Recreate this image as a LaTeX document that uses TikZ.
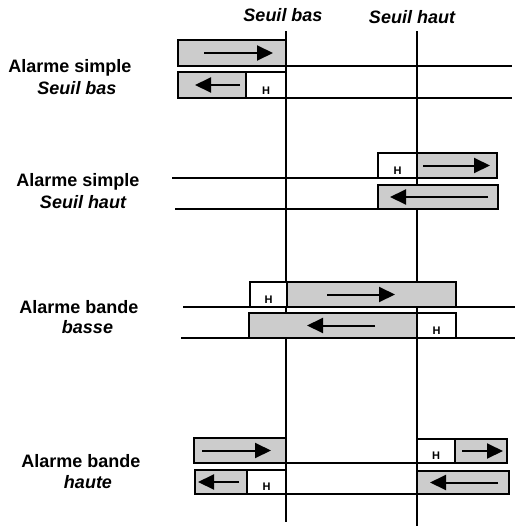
\documentclass[tikz,border=0pt]{standalone}
\usepackage{fontspec}
\setmainfont{Liberation Sans}
\usetikzlibrary{arrows.meta,calc}
\tikzset{
  gbox/.style={draw, line width=2.3pt, fill=black!20, inner sep=0pt, outer sep=0pt, anchor=north west},
  hbox/.style={draw, line width=2.3pt, fill=white, inner sep=0pt, outer sep=0pt, anchor=north west},
  hlab/.style={font=\fontsize{11}{13}\selectfont\bfseries, inner sep=0pt, anchor=base},
  arr/.style={line width=2pt, -{Triangle[length=16pt,width=15pt]}},
  rule/.style={line width=1.9pt},
  lab/.style={font=\fontsize{18}{21}\selectfont\bfseries, inner sep=0pt},
  ilab/.style={font=\fontsize{18}{21}\selectfont\bfseries\itshape, inner sep=0pt},
}
\begin{document}
\begin{tikzpicture}[x=1pt,y=-1pt]
\useasboundingbox (0,0) rectangle (515,530);
% thresholds
\coordinate (bT) at (286,31); \coordinate (bB) at (286,522);
\coordinate (hT) at (417,31); \coordinate (hB) at (417,526);
\draw[rule] (bT) -- (bB);
\draw[rule] (hT) -- (hB);
\node[ilab] (tb) at (283,15) {Seuil bas};
\node[ilab] (th) at (412,17) {Seuil haut};
% horizontal rules
\coordinate (l1a) at (286,66);  \coordinate (l1b) at (512,66);
\coordinate (l2a) at (286,98);  \coordinate (l2b) at (512,98);
\coordinate (l3a) at (172,178); \coordinate (l3b) at (378,178);
\coordinate (l4a) at (175,209); \coordinate (l4b) at (378,209);
\coordinate (l5a) at (183,307); \coordinate (l5b) at (515,307);
\coordinate (l6a) at (181,338); \coordinate (l6b) at (515,338);
\coordinate (l7a) at (286,463); \coordinate (l7b) at (417,463);
\coordinate (l8a) at (286,494); \coordinate (l8b) at (417,494);
\foreach \i in {1,...,8} {\draw[rule] (l\i a) -- (l\i b);}
% Row 1
\node[gbox, minimum width=108pt, minimum height=26pt] (r1a) at (178,40) {};
\draw[arr] ($(r1a.west)+(26,0)$) -- ($(r1a.east)+(-13,0)$);
\node[gbox, minimum width=68pt, minimum height=26pt] (r1b) at (178,72) {};
\node[hbox, minimum width=40pt, minimum height=26pt] (r1h) at (246,72) {};
\node[hlab] at ($(r1h.south)+(0,-4)$) {H};
\draw[arr] ($(r1b.east)+(-6,0)$) -- ($(r1b.west)+(17,0)$);
% Row 2
\node[hbox, minimum width=39pt, minimum height=25pt] (r2h) at (378,153) {};
\node[hlab] at ($(r2h.south)+(0,-4)$) {H};
\node[gbox, minimum width=80pt, minimum height=25pt] (r2a) at (417,153) {};
\draw[arr] ($(r2a.west)+(6,0)$) -- ($(r2a.east)+(-7,0)$);
\node[gbox, minimum width=120pt, minimum height=24pt] (r2b) at (378,185) {};
\draw[arr] ($(r2b.east)+(-10,0)$) -- ($(r2b.west)+(12,0)$);
% Row 3
\node[hbox, minimum width=37pt, minimum height=25pt] (r3h) at (250,282) {};
\node[hlab] at ($(r3h.south)+(0,-4)$) {H};
\node[gbox, minimum width=169pt, minimum height=25pt] (r3a) at (287,282) {};
\draw[arr] ($(r3a.west)+(40,0)$) -- ($(r3a.west)+(108,0)$);
\node[gbox, minimum width=168pt, minimum height=25pt] (r3b) at (249,313) {};
\node[hbox, minimum width=39pt, minimum height=25pt] (r3h2) at (417,313) {};
\node[hlab] at ($(r3h2.south)+(0,-4)$) {H};
\draw[arr] ($(r3b.west)+(126,0)$) -- ($(r3b.west)+(58,0)$);
% Row 4
\node[gbox, minimum width=92pt, minimum height=25pt] (r4a) at (194,438) {};
\draw[arr] ($(r4a.west)+(8,0)$) -- ($(r4a.east)+(-15,0)$);
\node[hbox, minimum width=38pt, minimum height=24pt] (r4h) at (417,439) {};
\node[hlab] at ($(r4h.south)+(0,-4)$) {H};
\node[gbox, minimum width=52pt, minimum height=24pt] (r4c) at (455,439) {};
\draw[arr] ($(r4c.west)+(7,0)$) -- ($(r4c.east)+(-4,0)$);
\node[gbox, minimum width=52pt, minimum height=24pt] (r4b) at (195,470) {};
\node[hbox, minimum width=39pt, minimum height=24pt] (r4h2) at (247,470) {};
\node[hlab] at ($(r4h2.south)+(0,-4)$) {H};
\draw[arr] ($(r4b.east)+(-8,0)$) -- ($(r4b.west)+(3,0)$);
\node[gbox, minimum width=92pt, minimum height=23pt] (r4d) at (417,471) {};
\draw[arr] ($(r4d.east)+(-11,0)$) -- ($(r4d.west)+(13,0)$);
% left labels
\node[lab]  (a1) at (70,68)  {Alarme simple};
\node[ilab] (b1) at (77,88)  {Seuil bas};
\node[lab]  (a2) at (78,182) {Alarme simple};
\node[ilab] (b2) at (83,202) {Seuil haut};
\node[lab]  (a3) at (79,307) {Alarme bande};
\node[ilab] (b3) at (87.5,327) {basse};
\node[lab]  (a4) at (81,461) {Alarme bande};
\node[ilab] (b4) at (88,482) {haute};
\end{tikzpicture}
\end{document}
